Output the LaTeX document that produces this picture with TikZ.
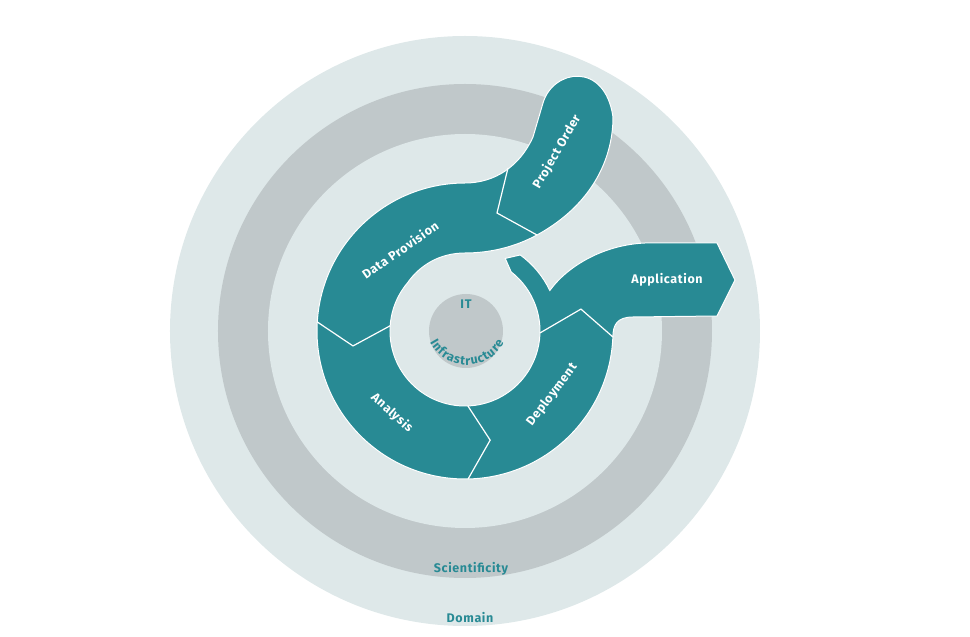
\documentclass[tikz,border=0pt]{standalone}
\usepackage{fontspec}
\setmainfont{Fira Sans}
\usetikzlibrary{decorations.text}
\definecolor{CycleTeal}{RGB}{40,138,148}
\definecolor{RingLight}{RGB}{222,232,233}
\definecolor{RingGrey}{RGB}{192,200,202}

\begin{document}
\begin{tikzpicture}[x=1pt, y=1pt,
    phase/.style={text=white, font=\bfseries\fontsize{12.5}{14}\selectfont\addfontfeatures{LetterSpace=5}},
    ringlabel/.style={text=CycleTeal, font=\bfseries\fontsize{12.5}{14}\selectfont\addfontfeatures{LetterSpace=5}},
    cut/.style={white, line width=1.2pt}]
                \def\rDom{295} \def\rSci{247} \def\rIn{197}
                \def\rOut{148} \def\rHub{75} \def\rIT{37}
                \useasboundingbox (-465,-306) rectangle (505,331);
                \fill[RingLight] (0,0) circle (\rDom);
                \fill[RingGrey] (0,0) circle (\rSci);
                \fill[RingLight] (0,0) circle (\rIn);
                \fill[RingGrey] (1,0) circle (\rIT);
                % the cycle, one piece
                \path[fill=CycleTeal, draw=white, line width=1pt]
                    (0,\rOut) .. controls (30,148) and (55,165) .. (68,194)
                    -- (78,228) .. controls (88,262) and (140,270) .. (148,214)
                    .. controls (148,170) and (125,125) .. (72,96)
                    .. controls (50,84) and (25,78) .. (0,78)
                    .. controls (-25,78) and (-45,66) .. (140:\rHub)
                    arc[start angle=140, end angle=412, radius=\rHub]
                    -- (61:83) -- (54:94)
                    arc[start angle=54, end angle=25.5, radius=94]
                    .. controls (100,62) and (135,86) .. (180,88)
                    -- (252,88) -- (270,51) -- (252,15) -- (168,14)
                    .. controls (152,14) and (148,6) .. (-2.3:\rOut)
                    arc[start angle=-2.3, end angle=-270, radius=\rOut]
                    -- cycle;
                \draw[cut] (43,163) -- (32,118) -- (72,96);
                \draw[cut] (176.5:\rOut) -- (187.6:113) -- (176:\rHub);
                \draw[cut] (271.2:\rOut) -- (283:112) -- (272.2:\rHub);
                \draw[cut] (-2.3:\rOut) -- (10.7:118) -- (-1.5:\rHub);
                \node[phase, rotate=35] (dp) at (-65,81) {Data Provision};
                \node[phase, rotate=60] (po) at (92,179) {Project Order};
                \node[phase] (app) at (202,51) {Application};
                \node[phase, rotate=-42] (an) at (-73,-82) {Analysis};
                \node[phase, rotate=53] (dep) at (87,-64) {Deployment};
                \node[ringlabel] (it) at (1,27) {IT};
                \path[decorate, decoration={text along path, text align=fit to path,
                    text color=CycleTeal,
                    text={|\bfseries\fontsize{12.5}{14}\selectfont|Infrastructure}}]
                    (2,8) ++(208:42) arc[start angle=208, end angle=332, radius=42];
                \node[ringlabel] (sci) at (6,-238) {Scientificity};
                \node[ringlabel] (dom) at (5,-287) {Domain};
            \end{tikzpicture}
\end{document}
